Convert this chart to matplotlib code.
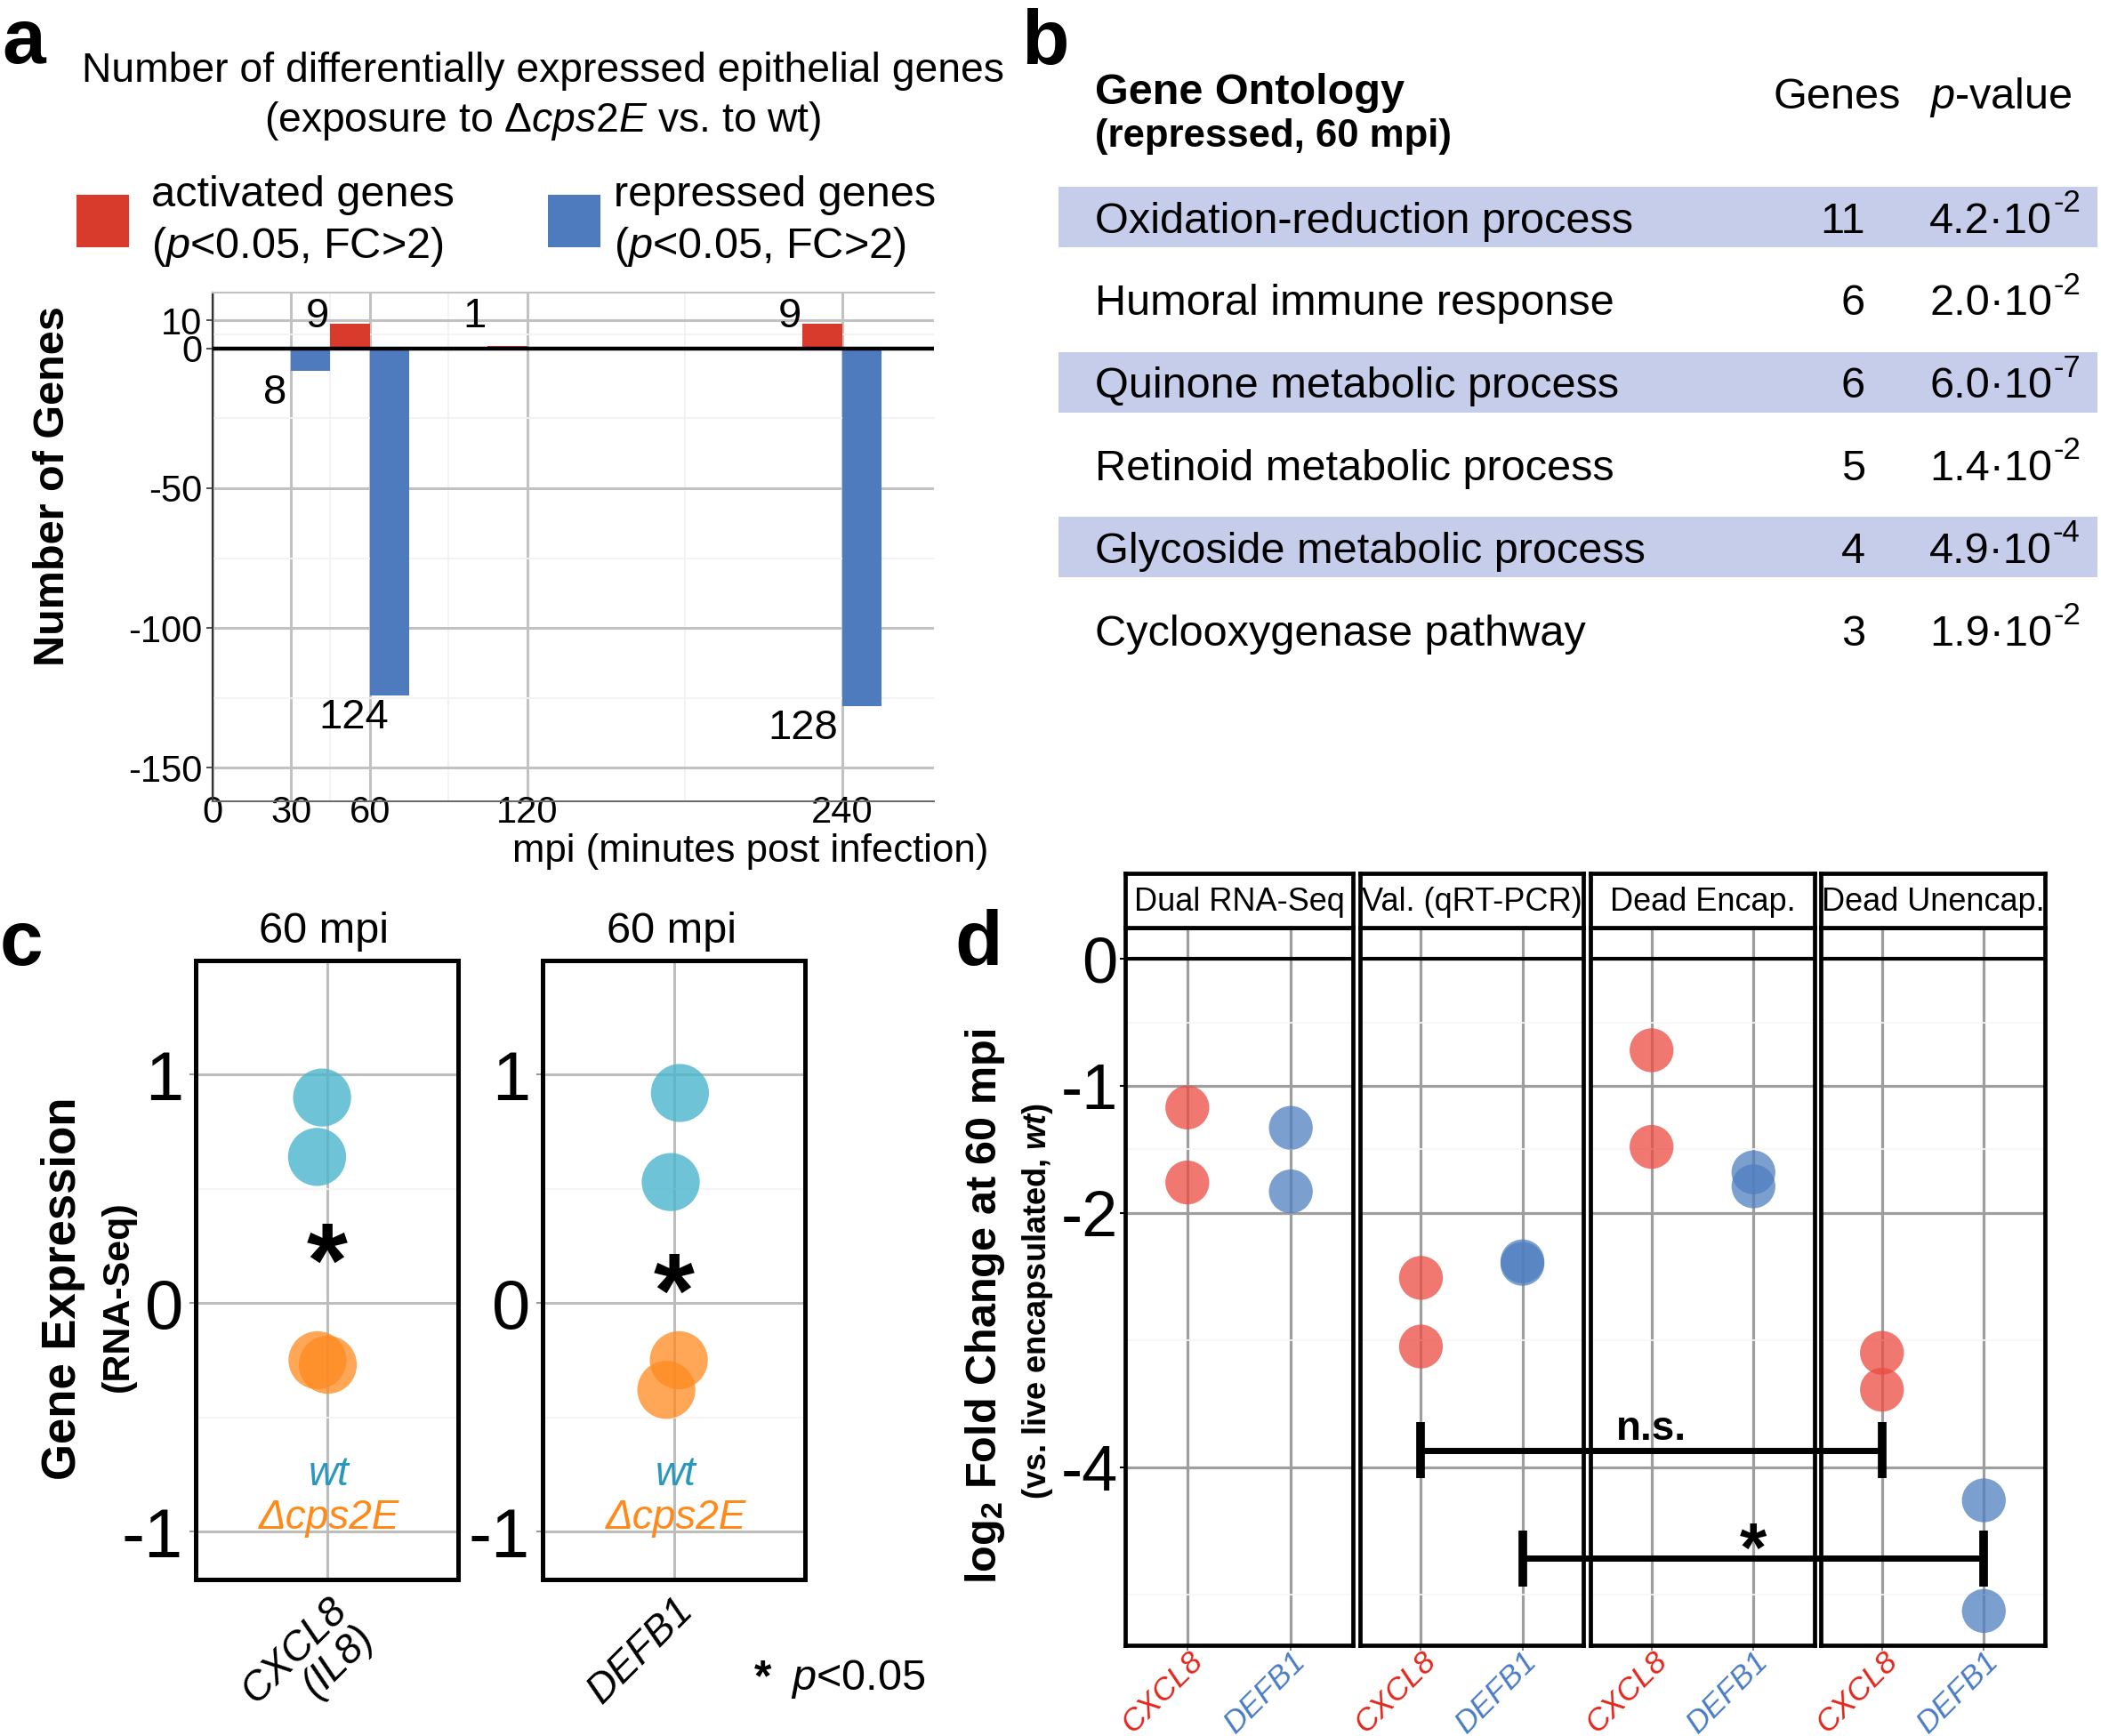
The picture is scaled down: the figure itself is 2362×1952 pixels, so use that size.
import matplotlib
matplotlib.use('Agg')
import matplotlib.pyplot as plt
from matplotlib.lines import Line2D
from matplotlib.patches import Rectangle
from matplotlib.transforms import offset_copy

# ---------------------------------------------------------------- data
# panel a
time_points = [30, 60, 120, 240]
activated = [0, 9, 1, 9]
repressed = [8, 124, 0, 128]
a_xticks = [0, 30, 60, 120, 240]
a_yticks = [10, 0, -50, -100, -150]

# panel b
go_terms = ['Oxidation-reduction process', 'Humoral immune response',
            'Quinone metabolic process', 'Retinoid metabolic process',
            'Glycoside metabolic process', 'Cyclooxygenase pathway']
go_genes = [11, 6, 6, 5, 4, 3]
go_p_mant = ['4.2', '2.0', '6.0', '1.4', '4.9', '1.9']
go_p_exp = [-2, -2, -7, -2, -4, -2]

# panel c
c_genes = ['CXCL8\n(IL8)', 'DEFB1']
c_wt = [[0.90, 0.64], [0.92, 0.53]]
c_wt_jit = [[-0.022, -0.045], [0.028, -0.014]]
c_mut = [[-0.25, -0.27], [-0.25, -0.38]]
c_mut_jit = [[-0.043, 0.004], [0.023, -0.034]]
c_star = [0.29, 0.16]
c_yticks = [-1, 0, 1]

# panel d
d_facets = ['Dual RNA-Seq', 'Val. (qRT-PCR)', 'Dead Encap.', 'Dead Unencap.']
d_genes = ['CXCL8', 'DEFB1']
d_cxcl8 = [[-1.17, -1.76], [-2.51, -3.05], [-0.72, -1.48], [-3.10, -3.39]]
d_defb1 = [[-1.33, -1.83], [-2.38, -2.40], [-1.68, -1.79], [-4.26, -5.13]]
d_yticks = [0, -1, -2, -4]
# brackets: (facet_from, gene_from, facet_to, gene_to, y, label)
d_brackets = [(1, 1, 3, 1, -3.865, 'n.s.'), (1, 2, 3, 2, -4.715, '*')]

# ---------------------------------------------------------------- style
W, H, DPI = 2362, 1952, 100
plt.rcParams['font.family'] = ['Liberation Sans', 'DejaVu Sans']
plt.rcParams['mathtext.fontset'] = 'custom'
plt.rcParams['mathtext.rm'] = 'Liberation Sans'
plt.rcParams['mathtext.it'] = 'Liberation Sans:italic'
plt.rcParams['mathtext.bf'] = 'Liberation Sans:bold'
plt.rcParams['mathtext.sf'] = 'Liberation Sans:bold:italic'
plt.rcParams['axes.unicode_minus'] = False

RED_A, BLUE_A = '#d83a2c', '#4e7bbd'
TEAL, ORANGE = '#4ab5cc', '#ff8a1f'
TEAL_TXT, ORANGE_TXT = '#2a98bd', '#ff8a1a'
RED_D, BLUE_D = '#eb4b41', '#4f7fc0'
RED_TXT, BLUE_TXT = '#e3261b', '#4a7cc4'
BAND = '#c5cdeb'

fig = plt.figure(figsize=(W / DPI, H / DPI), dpi=DPI)
renderer = fig.canvas.get_renderer()


def fx(x):
    return x / W


def fy(y):
    return 1 - y / H


def rect(x0, y0, x1, y1):
    return [x0 / W, 1 - y1 / H, (x1 - x0) / W, (y1 - y0) / H]


def to_fig(ax, x, y):
    return fig.transFigure.inverted().transform(ax.transData.transform((x, y)))


# panel letters
for letter, (lx, ly) in zip('abcd', [(2, 71), (1148, 72), (0, 1085), (1073, 1085)]):
    fig.text(fx(lx), fy(ly), letter, fontsize=63, fontweight='bold', va='baseline', ha='left')

# ================================================================ panel a
fig.text(fx(610), fy(80), 'Number of differentially expressed epithelial genes',
         fontsize=33.3, ha='center', va='center')
fig.text(fx(610), fy(136), r'(exposure to Δ$\mathit{cps2E}$ vs. to wt)',
         fontsize=33.3, ha='center', va='center')

for (sx, tx, col, lab) in [(86, 170, RED_A, 'activated genes'), (616, 690, BLUE_A, 'repressed genes')]:
    fig.patches.append(Rectangle((fx(sx), fy(278)), 59 / W, 59 / H, transform=fig.transFigure,
                                 facecolor=col, edgecolor='none'))
    fig.text(fx(tx), fy(219), lab, fontsize=35, ha='left', va='center')
    fig.text(fx(tx), fy(277), r'($\mathit{p}$<$\mathit{0.05}$, FC>2)', fontsize=35, ha='left', va='center')

ax = fig.add_axes(rect(238.7, 329, 1050, 901))
ax.set_xlim(0, 275)
ax.set_ylim(-162, 20)
ax.bar([t - 15 for t in time_points], activated, width=15, align='edge', color=RED_A, zorder=3)
ax.bar(time_points, [-r for r in repressed], width=15, align='edge', color=BLUE_A, zorder=3)
ax.axhline(0, color='black', lw=3.2, zorder=4)
ax.set_xticks(a_xticks)
ax.set_yticks(a_yticks)
ax.set_xticks([45, 90, 180], minor=True)
ax.set_yticks([5, -25, -75, -125], minor=True)
ax.grid(True, which='major', color='#c2c2c2', lw=2.2)
ax.grid(True, which='minor', color='#f2f2f2', lw=1.3)
ax.set_axisbelow(True)
ax.spines['right'].set_visible(False)
ax.spines['top'].set_color('#c2c2c2')
ax.spines['top'].set_linewidth(1.5)
ax.spines['left'].set_color('#333333')
ax.spines['left'].set_linewidth(1.6)
ax.spines['bottom'].set_color('#666666')
ax.spines['bottom'].set_linewidth(1.4)
ax.tick_params(axis='y', labelsize=30, length=5, width=1.3, color='#444444', pad=3)
ax.tick_params(axis='x', labelsize=30, length=0, pad=-5)
ax.tick_params(which='minor', length=0)
for t, v in zip(time_points, activated):
    if v:
        ax.text(t - 20, 11.5, str(v), fontsize=34, ha='center', va='center', zorder=5)
rep_dx = [-6, -6, 0, -15]
for t, v, dx in zip(time_points, repressed, rep_dx):
    if v:
        ax.text(t + dx, -v - 8, str(v), fontsize=34, ha='center', va='center', zorder=5)
fig.text(fx(60), fy(547), 'Number of Genes', rotation=90, fontsize=35, fontweight='bold',
         ha='center', va='center')
fig.text(fx(844), fy(957), 'mpi (minutes post infection)', fontsize=31.5, ha='center', va='center')

# ================================================================ panel b
axb = fig.add_axes(rect(1150, 0, 2362, 760))
axb.set_xlim(1150, 2362)
axb.set_ylim(5.56, -2.63)
axb.axis('off')
rows = list(range(len(go_terms)))
axb.barh([r for r in rows if r % 2 == 0], 2358 - 1190, left=1190, height=0.73,
         color=BAND, edgecolor='none', zorder=0)
axb.text(1231, -1.37, 'Gene Ontology', fontsize=35, fontweight='bold', ha='left', va='baseline')
axb.text(1231, -0.85, '(repressed, 60 mpi)', fontsize=31.5, fontweight='bold', ha='left', va='baseline')
axb.text(1993, -1.31, 'Genes', fontsize=35, ha='left', va='baseline')
axb.text(2169, -1.31, r'$\mathit{p}$-value', fontsize=35, ha='left', va='baseline')
for r, term, g, m, e in zip(rows, go_terms, go_genes, go_p_mant, go_p_exp):
    axb.text(1231, r + 0.19, term, fontsize=35, ha='left', va='baseline')
    axb.text(2097, r + 0.19, str(g), fontsize=35, ha='right', va='baseline')
    tm = axb.text(2169, r + 0.19, m + '·10', fontsize=35, ha='left', va='baseline')
    bb = tm.get_window_extent(renderer)
    x_end = axb.transData.inverted().transform((bb.x1, bb.y0))[0]
    axb.text(x_end + 1, r + 0.19, str(e), fontsize=25, ha='left', va='baseline',
             transform=offset_copy(axb.transData, fig=fig, y=17, units='points'))

# ================================================================ panel c
c_rects = [(220, 1080, 515, 1776), (610, 1080, 905, 1776)]
MS_C = 47
for i in range(2):
    ax = fig.add_axes(rect(*c_rects[i]))
    ax.set_xlim(0.4, 1.6)
    ax.set_ylim(-1.21, 1.5)
    ax.scatter([1 + d for d in c_wt_jit[i]], c_wt[i], s=MS_C ** 2, c=TEAL, alpha=0.8,
               edgecolors='none', zorder=3)
    ax.scatter([1 + d for d in c_mut_jit[i]], c_mut[i], s=MS_C ** 2, c=ORANGE, alpha=0.75,
               edgecolors='none', zorder=3)
    ax.set_yticks(c_yticks)
    ax.set_yticklabels([str(v) for v in c_yticks])
    ax.set_yticks([-0.5, 0.5], minor=True)
    ax.set_xticks([1])
    ax.set_xticklabels([c_genes[i]], rotation=45, ha='right', va='top', rotation_mode='anchor',
                       style='italic', fontsize=33, multialignment='right', linespacing=1.0)
    ax.grid(True, which='major', color='#bdbdbd', lw=2.2)
    ax.grid(True, which='minor', axis='y', color='#f4f4f4', lw=1.2)
    ax.set_axisbelow(True)
    for s in ax.spines.values():
        s.set_linewidth(3.6)
        s.set_color('black')
    ax.tick_params(axis='y', labelsize=56, length=5, width=1.5, color='#999999', pad=5)
    ax.tick_params(axis='x', length=0, pad=9)
    ax.tick_params(which='minor', length=0)
    fs = 85
    ax.text(1, c_star[i], '*', fontsize=fs, fontweight='bold', ha='center', va='baseline',
            transform=offset_copy(ax.transData, fig=fig, y=-0.57 * fs, units='points'), zorder=5)
    ax.text(1.01, -0.75, 'wt', color=TEAL_TXT, style='italic', fontsize=33, ha='center', va='center')
    ax.text(1.01, -0.94, 'Δcps2E', color=ORANGE_TXT, style='italic', fontsize=33,
            ha='center', va='center')
    cx = (c_rects[i][0] + c_rects[i][2]) / 2
    fig.text(fx(cx - 3), fy(1047), '60 mpi', fontsize=35, ha='center', va='center')

fig.text(fx(71), fy(1449), 'Gene Expression', rotation=90, fontsize=38, fontweight='bold',
         ha='center', va='center')
fig.text(fx(133), fy(1458), '(RNA-Seq)', rotation=90, fontsize=31, fontweight='bold',
         ha='center', va='center')
fig.text(fx(848), fy(1888), '*', fontsize=36, fontweight='bold', ha='left', va='center')
fig.text(fx(889), fy(1888), r'$\mathit{p}$<0.05', fontsize=35, ha='left', va='center')

# ================================================================ panel d
d_x = [(1265, 1521), (1529, 1780), (1788, 2040), (2047, 2299)]
MS_D = 35.5
axes_d = []
for k in range(4):
    x0, x1 = d_x[k]
    ax = fig.add_axes(rect(x0, 1043, x1, 1850))
    ax.set_xlim(0.4, 2.6)
    ax.set_ylim(-5.4, 0.245)
    ax.scatter([1] * len(d_cxcl8[k]), d_cxcl8[k], s=MS_D ** 2, c=RED_D, alpha=0.75,
               edgecolors='none', zorder=3)
    ax.scatter([2] * len(d_defb1[k]), d_defb1[k], s=MS_D ** 2, c=BLUE_D, alpha=0.75,
               edgecolors='none', zorder=3)
    ax.axhline(0, color='black', lw=3.0, zorder=2)
    ax.set_yticks(d_yticks)
    ax.set_yticks([-0.5, -1.5, -3, -5], minor=True)
    ax.set_xticks([1, 2])
    ax.set_xticklabels(d_genes, rotation=45, ha='right', va='top', rotation_mode='anchor',
                       style='italic', fontsize=25.5)
    for lab, col in zip(ax.get_xticklabels(), [RED_TXT, BLUE_TXT]):
        lab.set_color(col)
    ax.grid(True, which='major', color='#9e9e9e', lw=2.3)
    ax.grid(True, which='minor', axis='y', color='#f6f6f6', lw=1.2)
    ax.set_axisbelow(True)
    for s in ax.spines.values():
        s.set_linewidth(3.4)
        s.set_color('black')
    ax.tick_params(axis='x', length=4, width=1.2, color='#777777', pad=-3)
    ax.tick_params(which='minor', length=0)
    if k == 0:
        ax.set_yticklabels([str(v) for v in d_yticks])
        ax.tick_params(axis='y', labelsize=52, length=4, width=1.5, color='black', pad=2)
    else:
        ax.tick_params(axis='y', labelleft=False, length=0)
    axes_d.append(ax)

    sax = fig.add_axes(rect(x0, 982, x1, 1043))
    sax.set_xticks([])
    sax.set_yticks([])
    for s in sax.spines.values():
        s.set_linewidth(3.4)
        s.set_color('black')
    sax.text(0.5, 0.47, d_facets[k], fontsize=26, ha='center', va='center', transform=sax.transAxes)

TICK_HALF = 0.22
for fa, ga, fb, gb, yb, lab in d_brackets:
    p0 = to_fig(axes_d[fa], ga, yb)
    p1 = to_fig(axes_d[fb], gb, yb)
    fig.add_artist(Line2D([p0[0], p1[0]], [p0[1], p1[1]], transform=fig.transFigure,
                          color='black', lw=5, solid_capstyle='butt', zorder=10))
    for (fk, gk) in [(fa, ga), (fb, gb)]:
        q0 = to_fig(axes_d[fk], gk, yb + TICK_HALF)
        q1 = to_fig(axes_d[fk], gk, yb - TICK_HALF)
        fig.add_artist(Line2D([q0[0], q1[0]], [q0[1], q1[1]], transform=fig.transFigure,
                              color='black', lw=7, solid_capstyle='butt', zorder=10))
    mx = (p0[0] + p1[0]) / 2
    if lab == '*':
        fs = 56
        cy = p0[1] + 29 / H
        fig.text(mx, cy, '*', fontsize=fs, fontweight='bold', ha='center', va='baseline',
                 transform=offset_copy(fig.transFigure, fig=fig, y=-0.57 * fs, units='points'),
                 zorder=11)
    else:
        fig.text(mx, p0[1] + 12 / H, lab, fontsize=33, fontweight='bold', ha='center',
                 va='baseline', zorder=11)

fig.text(fx(1107), fy(1469), r'log$_{\mathbf{2}}$ Fold Change at 60 mpi', rotation=90,
         fontsize=35, fontweight='bold', ha='center', va='center')
fig.text(fx(1167), fy(1463), r'(vs. live encapsulated, $\mathsf{wt}$)', rotation=90,
         fontsize=26, fontweight='bold', ha='center', va='center')

fig.savefig('out.png', dpi=DPI)
